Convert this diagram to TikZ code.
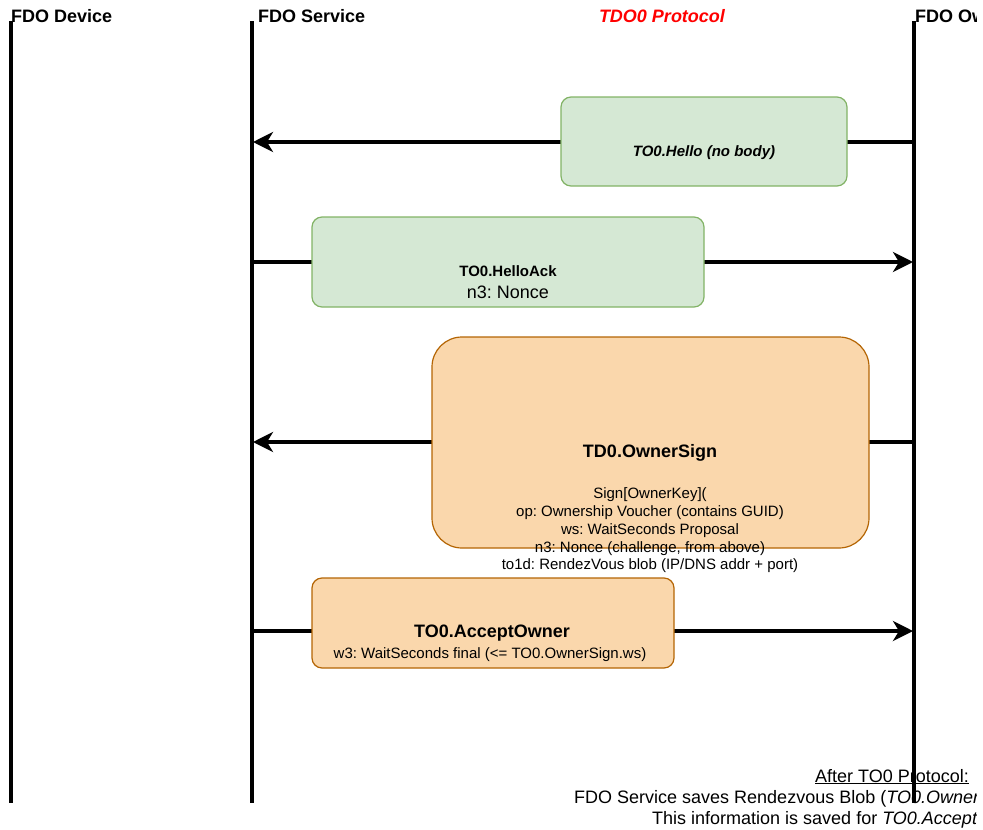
\documentclass[tikz,border=0pt]{standalone}
\usepackage{fontspec}
\setmainfont{Liberation Sans}
\usetikzlibrary{arrows.meta}

\definecolor{greenfill}{HTML}{D5E8D4}
\definecolor{greenline}{HTML}{82B366}
\definecolor{orangefill}{HTML}{FAD7AC}
\definecolor{orangeline}{HTML}{B46504}
\definecolor{protored}{HTML}{FF0000}

\begin{document}
\frenchspacing
\begin{tikzpicture}[x=1pt,y=-1pt,
  lifeline/.style={line width=4pt},
  msg/.style={line width=4pt,-{Stealth[length=20pt,width=20pt,inset=6pt]}},
  greenbox/.style={draw=greenline,fill=greenfill,line width=1.2pt,rounded corners=10pt,inner sep=0pt},
  orangebox/.style={draw=orangeline,fill=orangefill,line width=1.2pt,rounded corners=10pt,inner sep=0pt},
  label/.style={inner sep=0pt,align=center},
  header/.style={inner sep=0pt,anchor=base west,font=\fontsize{18}{21}\selectfont\bfseries},
  note/.style={inner sep=0pt,anchor=base west,font=\fontsize{18}{21}\selectfont}
]
\useasboundingbox (0,0) rectangle (983,830);
% the page area ends a little before the right margin
\clip (0,0) rectangle (976,830);

% closing notes (lifelines are drawn over them)
\node[note] (after1) at (815,782) {\underline{After TO0 Protocol:}};
\node[note] (after2) at (574,803) {FDO Service saves Rendezvous Blob (\textit{TO0.OwnerSign.to1d})};
\node[note] (after3) at (652,824) {This information is saved for \textit{TO0.AcceptOwner}};

% lifelines
\coordinate (devtop) at (11,21);   \coordinate (devbot) at (11,803);
\coordinate (svctop) at (252,21);  \coordinate (svcbot) at (252,803);
\coordinate (owntop) at (914,21);  \coordinate (ownbot) at (914,803);
\draw[lifeline] (devtop) -- (devbot);
\draw[lifeline] (svctop) -- (svcbot);
\draw[lifeline] (owntop) -- (ownbot);

% message end points on the lifelines
\coordinate (own1) at (912,142); \coordinate (svc1) at (253,142);
\coordinate (svc2) at (252,262); \coordinate (own2) at (913,262);
\coordinate (own3) at (912,442); \coordinate (svc3) at (253,442);
\coordinate (svc4) at (252,631); \coordinate (own4) at (913,631);

\draw[msg] (own1) -- (svc1);
\draw[msg] (svc2) -- (own2);
\draw[msg] (own3) -- (svc3);
\draw[msg] (svc4) -- (own4);

% message boxes
\node[greenbox,minimum width=286pt,minimum height=89pt] (hello) at (704,141.5) {};
\node[label,font=\fontsize{15}{18}\selectfont\bfseries\itshape] (hellotxt) at (704,153) {TO0.Hello (no body)};

\node[greenbox,minimum width=392pt,minimum height=90pt] (helloack) at (508,262) {};
\node[label,font=\fontsize{15}{18}\selectfont\bfseries] (helloacktitle) at (508,271) {TO0.HelloAck};
\node[label,font=\fontsize{18}{21}\selectfont] (helloackbody) at (508,292) {n3: Nonce};

\node[orangebox,rounded corners=30pt,minimum width=437pt,minimum height=211pt] (ownersign) at (650.5,442.5) {};
\node[label,font=\fontsize{18}{21}\selectfont\bfseries] (ownersigntitle) at (650,453) {TD0.OwnerSign};
\node[label,font=\fontsize{15}{17.75}\selectfont] (ownersignbody) at (650,530.5)
  {Sign[OwnerKey](\\op: Ownership Voucher (contains GUID)\\ws: WaitSeconds Proposal\\n3: Nonce (challenge, from above)\\to1d: RendezVous blob (IP/DNS addr + port)};

\node[orangebox,minimum width=362pt,minimum height=90pt] (accept) at (493,623) {};
\node[label,font=\fontsize{18}{21}\selectfont\bfseries] (accepttitle) at (492,633) {TO0.AcceptOwner};
\node[label,font=\fontsize{15}{18}\selectfont] (acceptbody) at (490,655) {w3: WaitSeconds final (<= TO0.OwnerSign.ws)};

% headers
\node[header] (hdev) at (11,22.5) {FDO Device};
\node[header] (hsvc) at (258,22.5) {FDO Service};
\node[header] (hown) at (915,22.5) {FDO Owner};
\node[inner sep=0pt,anchor=base,font=\fontsize{18}{21}\selectfont\bfseries\itshape,text=protored] (proto) at (662,22.5) {TDO0 Protocol};
\end{tikzpicture}
\end{document}
